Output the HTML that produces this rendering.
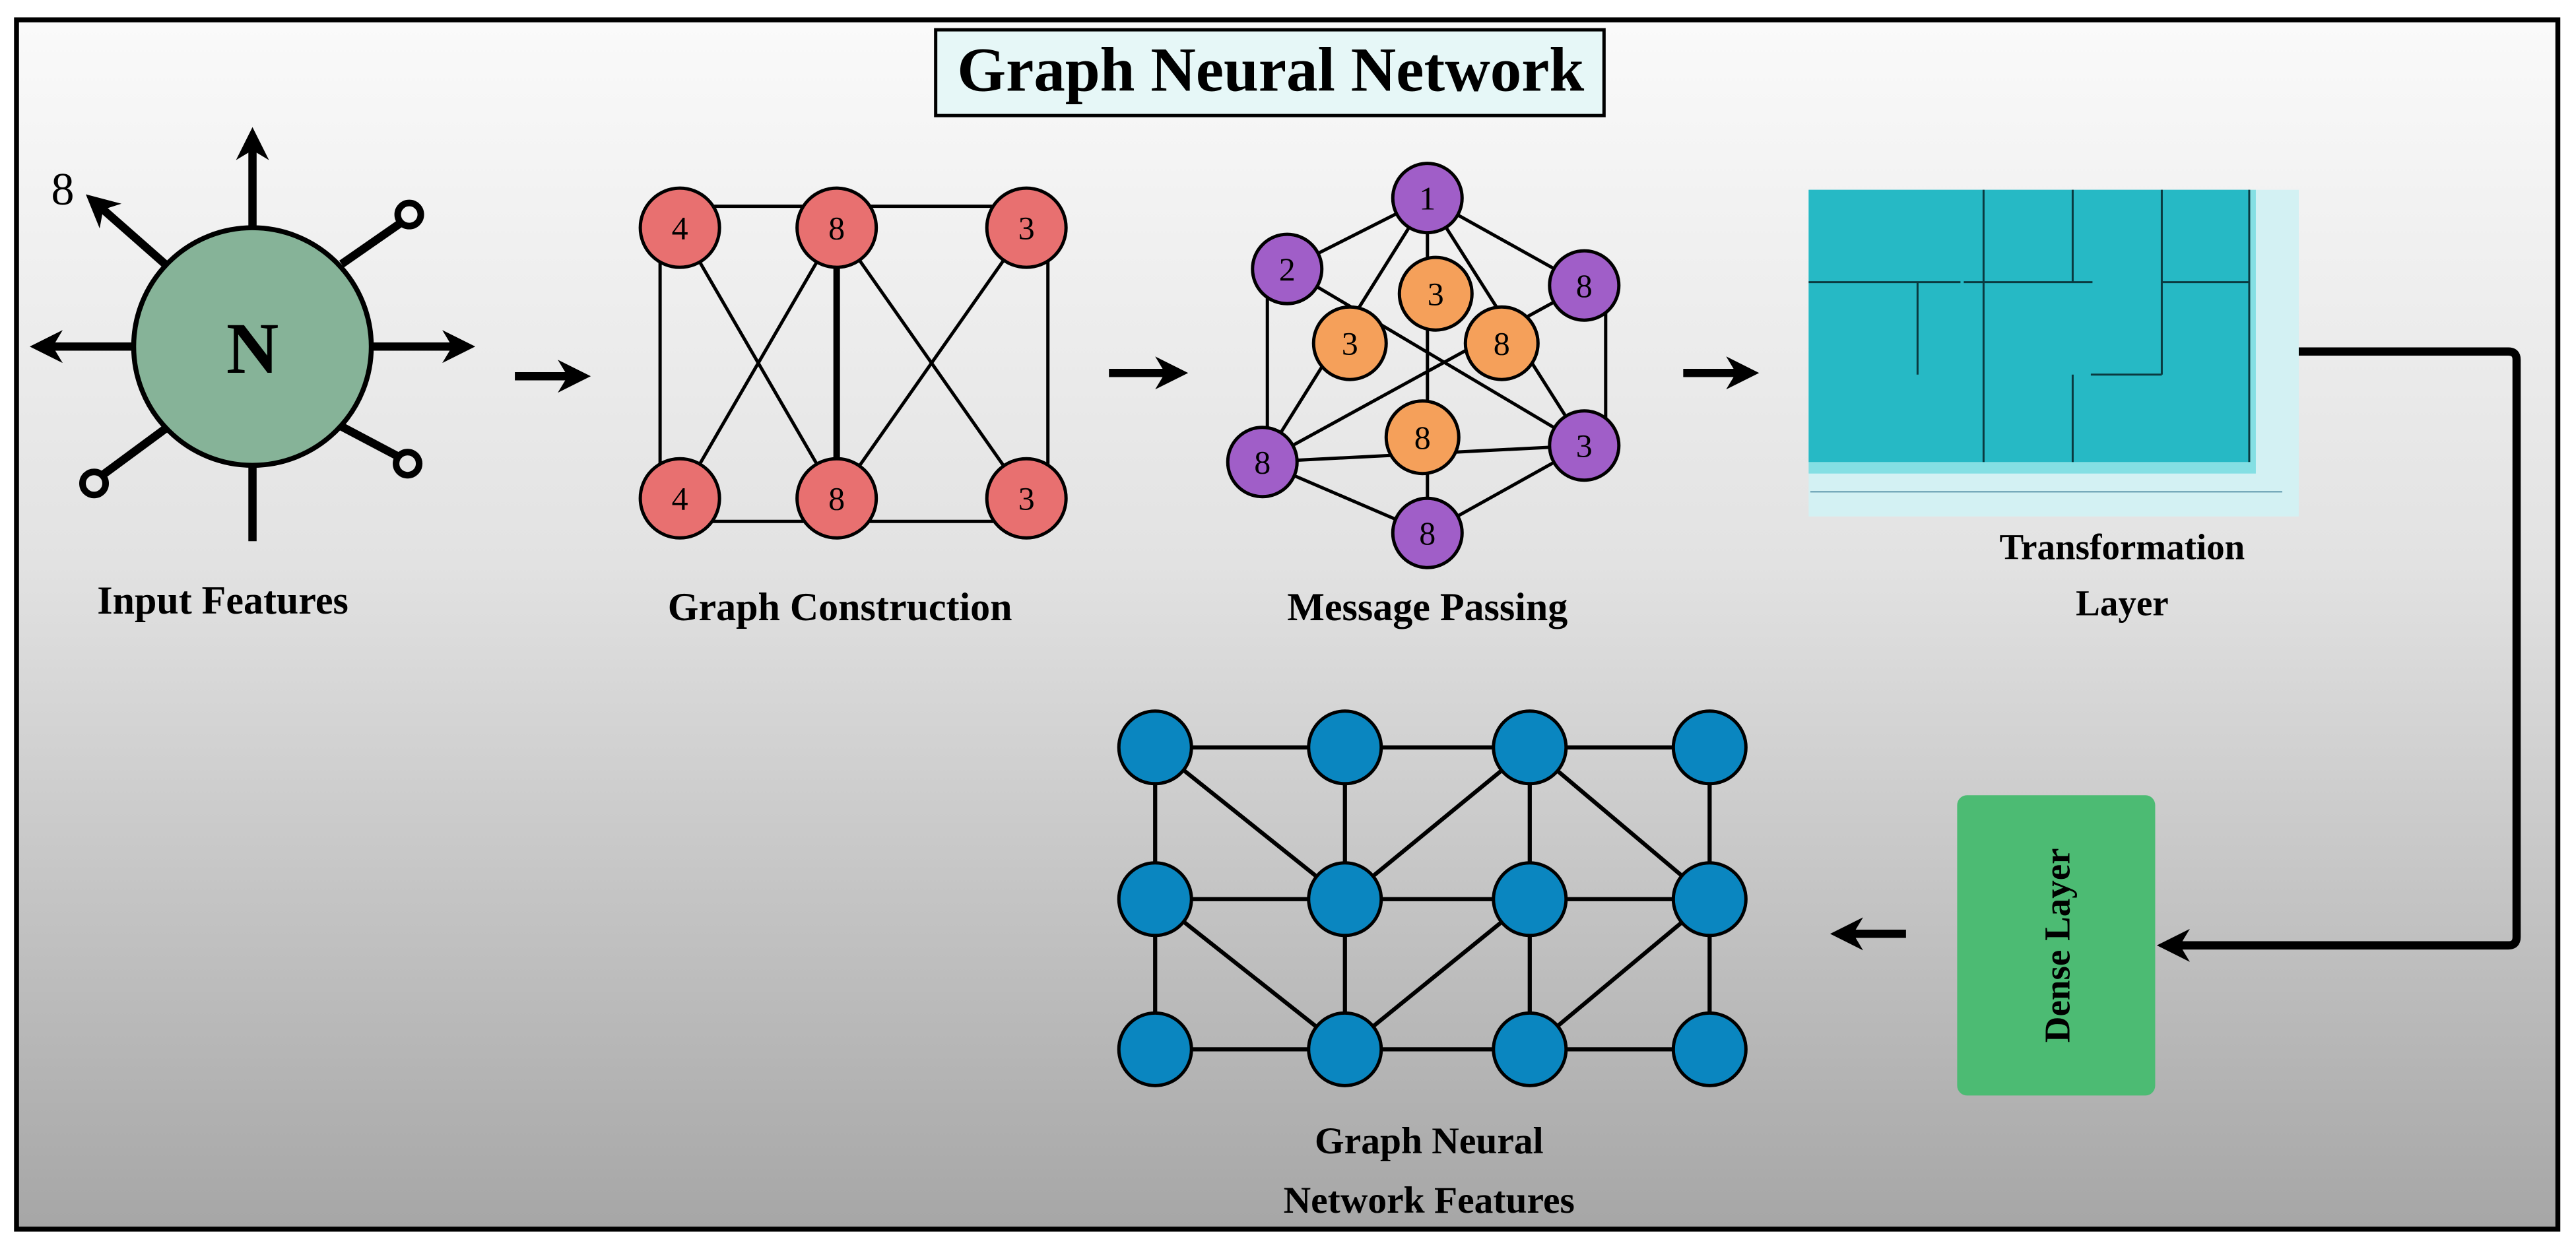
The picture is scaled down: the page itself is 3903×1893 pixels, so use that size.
<!DOCTYPE html>
<html><head><meta charset="utf-8"><style>html,body{margin:0;padding:0;background:#fff}svg{display:block}</style></head>
<body>
<svg width="3903" height="1893" viewBox="0 0 1561 757" xmlns="http://www.w3.org/2000/svg" font-family="'Liberation Serif', serif" font-weight="bold">
<defs>
<linearGradient id="bg" x1="0" y1="0" x2="0" y2="1">
<stop offset="0" stop-color="#fafafa"/><stop offset="0.45" stop-color="#e2e2e2"/><stop offset="1" stop-color="#a6a6a6"/>
</linearGradient>
<marker id="ah" viewBox="0 0 10 10" refX="6" refY="5" markerWidth="4" markerHeight="4" orient="auto"><path d="M0,0 L10,5 L0,10 L3,5 Z" fill="#000"/></marker>
</defs>
<rect x="0" y="0" width="1561" height="757" fill="#fff"/>
<rect x="10" y="12" width="1540" height="733" fill="url(#bg)" stroke="#000" stroke-width="3"/>
<rect x="567" y="18" width="405" height="52" fill="#e6f7f7" stroke="#000" stroke-width="2"/>
<text x="770" y="55" font-size="38" text-anchor="middle">Graph Neural Network</text>

<!-- Input features -->
<g stroke="#000" stroke-width="5" fill="none">
<line x1="153" y1="140" x2="153" y2="85" marker-end="url(#ah)"/>
<line x1="153" y1="282" x2="153" y2="328"/>
<line x1="81" y1="210" x2="26" y2="210" marker-end="url(#ah)"/>
<line x1="225" y1="210" x2="280" y2="210" marker-end="url(#ah)"/>
<line x1="100" y1="160" x2="58" y2="123" marker-end="url(#ah)"/>
<line x1="207" y1="160" x2="243" y2="135"/>
<line x1="100" y1="260" x2="62" y2="288"/>
<line x1="206" y1="258" x2="242" y2="277"/>
<circle cx="248" cy="130" r="7" stroke-width="4"/>
<circle cx="57" cy="293" r="7" stroke-width="4"/>
<circle cx="247" cy="281" r="7" stroke-width="4"/>
</g>
<circle cx="153" cy="210" r="72" fill="#86b398" stroke="#000" stroke-width="3"/>
<text x="153" y="226" font-size="44" text-anchor="middle">N</text>
<text x="38" y="124" font-size="28" text-anchor="middle" font-weight="normal">8</text>
<text x="135" y="372" font-size="24" text-anchor="middle">Input Features</text>

<g stroke="#000" stroke-width="5"><line x1="312" y1="228" x2="350" y2="228" marker-end="url(#ah)"/>
<line x1="672" y1="226" x2="712" y2="226" marker-end="url(#ah)"/>
<line x1="1020" y1="226" x2="1058" y2="226" marker-end="url(#ah)"/>
<line x1="1155" y1="566" x2="1117" y2="566" marker-end="url(#ah)"/></g>

<!-- Graph construction -->
<g stroke="#000" stroke-width="2">
<line x1="412" y1="125" x2="622" y2="125"/><line x1="412" y1="316" x2="622" y2="316"/>
<line x1="400" y1="138" x2="400" y2="302"/><line x1="635" y1="138" x2="635" y2="302"/>
<line x1="507" y1="138" x2="507" y2="302" stroke-width="4"/>
<line x1="412" y1="138" x2="507" y2="302"/><line x1="507" y1="138" x2="412" y2="302"/>
<line x1="507" y1="138" x2="622" y2="302"/><line x1="622" y1="138" x2="507" y2="302"/>
</g>
<g fill="#e87070" stroke="#000" stroke-width="2">
<circle cx="412" cy="138" r="24"/><circle cx="507" cy="138" r="24"/><circle cx="622" cy="138" r="24"/>
<circle cx="412" cy="302" r="24"/><circle cx="507" cy="302" r="24"/><circle cx="622" cy="302" r="24"/>
</g>
<g font-size="20" text-anchor="middle" font-weight="normal">
<text x="412" y="145">4</text><text x="507" y="145">8</text><text x="622" y="145">3</text>
<text x="412" y="309">4</text><text x="507" y="309">8</text><text x="622" y="309">3</text>
</g>
<text x="509" y="376" font-size="24" text-anchor="middle">Graph Construction</text>

<!-- Message passing -->
<g stroke="#000" stroke-width="2">
<line x1="865" y1="120" x2="780" y2="163"/><line x1="865" y1="120" x2="960" y2="173"/>
<line x1="768" y1="163" x2="768" y2="280"/><line x1="973" y1="173" x2="973" y2="270"/>
<line x1="765" y1="280" x2="865" y2="323"/><line x1="960" y1="270" x2="865" y2="323"/>
<line x1="865" y1="120" x2="865" y2="323"/>
<line x1="865" y1="120" x2="765" y2="280"/><line x1="865" y1="120" x2="960" y2="270"/>
<line x1="765" y1="280" x2="960" y2="270"/>
<line x1="765" y1="280" x2="960" y2="173"/><line x1="780" y1="163" x2="960" y2="270"/>
</g>
<g fill="#a05ec8" stroke="#000" stroke-width="2">
<circle cx="865" cy="120" r="21"/><circle cx="780" cy="163" r="21"/><circle cx="960" cy="173" r="21"/>
<circle cx="765" cy="280" r="21"/><circle cx="960" cy="270" r="21"/><circle cx="865" cy="323" r="21"/>
</g>
<g fill="#f5a05a" stroke="#000" stroke-width="2">
<circle cx="870" cy="178" r="22"/><circle cx="818" cy="208" r="22"/><circle cx="910" cy="208" r="22"/><circle cx="862" cy="265" r="22"/>
</g>
<g font-size="20" text-anchor="middle" font-weight="normal">
<text x="865" y="127">1</text><text x="780" y="170">2</text><text x="960" y="180">8</text>
<text x="765" y="287">8</text><text x="960" y="277">3</text><text x="865" y="330">8</text>
<text x="870" y="185">3</text><text x="818" y="215">3</text><text x="910" y="215">8</text><text x="862" y="272">8</text>
</g>
<text x="865" y="376" font-size="24" text-anchor="middle">Message Passing</text>

<!-- Transformation -->
<rect x="1096" y="115" width="297" height="198" fill="#d3f1f3"/>
<line x1="1097" y1="298" x2="1383" y2="298" stroke="#7ab" stroke-width="1"/>
<rect x="1096" y="115" width="271" height="172" fill="#84dfe3"/>
<rect x="1096" y="115" width="267" height="165" fill="#26b9c5"/>
<g stroke="#0a3a40" stroke-width="1.2">
<line x1="1096" y1="171" x2="1188" y2="171"/><line x1="1190" y1="171" x2="1268" y2="171"/><line x1="1310" y1="171" x2="1363" y2="171"/>
<line x1="1267" y1="227" x2="1310" y2="227"/>
<line x1="1162" y1="171" x2="1162" y2="227"/>
<line x1="1202" y1="115" x2="1202" y2="280"/><line x1="1256" y1="115" x2="1256" y2="171"/><line x1="1256" y1="227" x2="1256" y2="280"/>
<line x1="1310" y1="115" x2="1310" y2="227"/><line x1="1363" y1="115" x2="1363" y2="280"/>
</g>
<text x="1286" y="339" font-size="22" text-anchor="middle">Transformation</text>
<text x="1286" y="373" font-size="22" text-anchor="middle">Layer</text>

<path d="M1393,213 L1520,213 Q1525,213 1525,218 L1525,568 Q1525,573 1520,573 L1315,573" fill="none" stroke="#000" stroke-width="5" marker-end="url(#ah)"/>

<rect x="1186" y="482" width="120" height="182" rx="6" fill="#4cbb73"/>
<text transform="translate(1254,573) rotate(-90)" font-size="22" text-anchor="middle">Dense Layer</text>

<!-- GNN features -->
<g stroke="#000" stroke-width="2.5">
<line x1="700" y1="453" x2="1036" y2="453"/><line x1="700" y1="545" x2="1036" y2="545"/><line x1="700" y1="636" x2="1036" y2="636"/>
<line x1="700" y1="453" x2="700" y2="636"/><line x1="815" y1="453" x2="815" y2="636"/><line x1="927" y1="453" x2="927" y2="636"/><line x1="1036" y1="453" x2="1036" y2="636"/>
<line x1="700" y1="453" x2="815" y2="545"/><line x1="815" y1="545" x2="927" y2="453"/><line x1="927" y1="453" x2="1036" y2="545"/>
<line x1="700" y1="545" x2="815" y2="636"/><line x1="927" y1="545" x2="815" y2="636"/><line x1="1036" y1="545" x2="927" y2="636"/>
</g>
<g fill="#0a86c0" stroke="#000" stroke-width="2">
<circle cx="700" cy="453" r="22"/><circle cx="815" cy="453" r="22"/><circle cx="927" cy="453" r="22"/><circle cx="1036" cy="453" r="22"/>
<circle cx="700" cy="545" r="22"/><circle cx="815" cy="545" r="22"/><circle cx="927" cy="545" r="22"/><circle cx="1036" cy="545" r="22"/>
<circle cx="700" cy="636" r="22"/><circle cx="815" cy="636" r="22"/><circle cx="927" cy="636" r="22"/><circle cx="1036" cy="636" r="22"/>
</g>
<text x="866" y="699" font-size="23" text-anchor="middle">Graph Neural</text>
<text x="866" y="735" font-size="23" text-anchor="middle">Network Features</text>
</svg>
</body></html>
